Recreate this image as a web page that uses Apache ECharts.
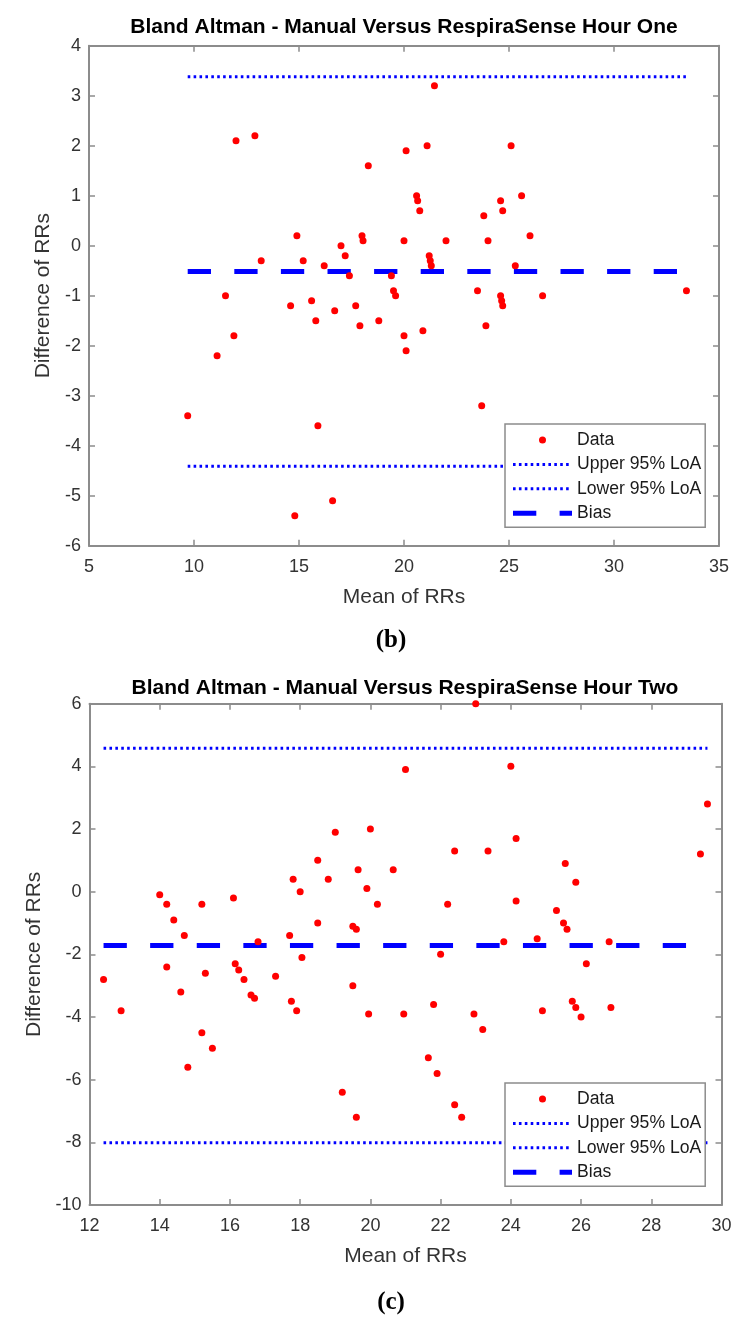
<!DOCTYPE html>
<html>
<head>
<meta charset="utf-8">
<script src="https://cdn.jsdelivr.net/npm/echarts@6/dist/echarts.min.js"></script>
<style>
html,body{margin:0;padding:0;background:#fff;}
#chart{width:749px;height:1332px;}
</style>
</head>
<body>
<div id="chart"></div>
<script>
// ---------- Hour One (b) ----------
const h1Mean = [9.7, 11.1, 11.5, 11.9, 12.0, 12.9, 13.2, 14.6, 14.8, 14.9, 15.2, 15.6, 15.8, 15.9, 16.2, 16.6, 16.7, 17.0, 17.2, 17.4, 17.7, 17.9, 18.0, 18.05, 18.3, 18.8, 19.4, 19.5, 19.6, 20.0, 20.0, 20.1, 20.1, 20.6, 20.65, 20.75, 20.9, 21.1, 21.2, 21.25, 21.3, 21.45, 22.0, 23.5, 23.7, 23.8, 23.9, 24.0, 24.6, 24.7, 24.6, 24.65, 24.7, 25.1, 25.3, 25.6, 26.0, 26.6, 33.45];
const h1Diff = [-3.4, -2.2, -1.0, -1.8, 2.1, 2.2, -0.3, -1.2, -5.4, 0.2, -0.3, -1.1, -1.5, -3.6, -0.4, -5.1, -1.3, 0.0, -0.2, -0.6, -1.2, -1.6, 0.2, 0.1, 1.6, -1.5, -0.6, -0.9, -1.0, 0.1, -1.8, 1.9, -2.1, 1.0, 0.9, 0.7, -1.7, 2.0, -0.2, -0.3, -0.4, 3.2, 0.1, -0.9, -3.2, 0.6, -1.6, 0.1, 0.9, 0.7, -1.0, -1.1, -1.2, 2.0, -0.4, 1.0, 0.2, -1.0, -0.9];
const h1Upper = 3.38;
const h1Lower = -4.41;
const h1Bias = -0.515;
const h1XTicks = [5, 35, 5];   // min, max, interval
const h1YTicks = [-6, 4, 1];

// ---------- Hour Two (c) ----------
const h2Mean = [12.4, 12.9, 14.0, 14.2, 14.2, 14.4, 14.6, 14.7, 14.8, 15.2, 15.2, 15.3, 15.5, 16.1, 16.15, 16.25, 16.4, 16.6, 16.7, 16.8, 17.3, 17.7, 17.75, 17.8, 17.9, 18.0, 18.05, 18.5, 18.5, 18.8, 19.0, 19.2, 19.5, 19.5, 19.6, 19.6, 19.65, 19.9, 19.95, 20.0, 20.2, 20.65, 20.95, 21.0, 21.65, 21.8, 21.9, 22.0, 22.2, 22.4, 22.4, 22.6, 22.95, 23.0, 23.2, 23.35, 23.8, 24.0, 24.15, 24.15, 24.75, 24.9, 25.3, 25.5, 25.55, 25.6, 25.75, 25.85, 25.85, 26.0, 26.15, 26.8, 26.85, 29.4, 29.6];
const h2Diff = [-2.8, -3.8, -0.1, -0.4, -2.4, -0.9, -3.2, -1.4, -5.6, -0.4, -4.5, -2.6, -5.0, -0.2, -2.3, -2.5, -2.8, -3.3, -3.4, -1.6, -2.7, -1.4, -3.5, 0.4, -3.8, 0.0, -2.1, 1.0, -1.0, 0.4, 1.9, -6.4, -3.0, -1.1, -1.2, -7.2, 0.7, 0.1, -3.9, 2.0, -0.4, 0.7, -3.9, 3.9, -5.3, -3.6, -5.8, -2.0, -0.4, 1.3, -6.8, -7.2, -3.9, 6.0, -4.4, 1.3, -1.6, 4.0, 1.7, -0.3, -1.5, -3.8, -0.6, -1.0, 0.9, -1.2, -3.5, 0.3, -3.7, -4.0, -2.3, -1.6, -3.7, 1.2, 2.8];
const h2Upper = 4.58;
const h2Lower = -8.01;
const h2Bias = -1.72;
const h2XTicks = [12, 30, 2];
const h2YTicks = [-10, 6, 2];

const seriesNames = ['Data', 'Upper 95% LoA', 'Lower 95% LoA', 'Bias'];
const titles = ['Bland Altman - Manual Versus RespiraSense Hour One', 'Bland Altman - Manual Versus RespiraSense Hour Two'];
const captions = ['b', 'c'];
const xName = 'Mean of RRs';
const yName = 'Difference of RRs';

// ---------- styling ----------
const FONT = '"Liberation Sans", Arial, Helvetica, sans-serif';
const FRAME = '#8c8c8c';
const TXT = '#333333';
const BLUE = '#0000ff';
const RED = '#ff0000';
const DOT_STYLE = {width: 3, type: [2.6, 3.3]};
const DASH_STYLE = {width: 5, type: [23.3, 23.3]};

function xAxes(g, t) {
  const common = {type: 'value', gridIndex: g, min: t[0], max: t[1], interval: t[2],
    axisLine: {show: true, onZero: false, lineStyle: {color: FRAME, width: 2}},
    axisTick: {show: true, inside: true, length: 6, lineStyle: {color: FRAME, width: 1.5}},
    splitLine: {show: false}};
  return [
    Object.assign({}, common, {position: 'bottom', name: xName, nameLocation: 'middle', nameGap: 41,
      nameTextStyle: {fontFamily: FONT, fontSize: 21, color: TXT},
      axisLabel: {fontFamily: FONT, fontSize: 18, color: TXT, margin: 12}}),
    Object.assign({}, common, {position: 'top', axisLabel: {show: false}})
  ];
}
function yAxes(g, t) {
  const common = {type: 'value', gridIndex: g, min: t[0], max: t[1], interval: t[2],
    axisLine: {show: true, onZero: false, lineStyle: {color: FRAME, width: 2}},
    axisTick: {show: true, inside: true, length: 6, lineStyle: {color: FRAME, width: 1.5}},
    splitLine: {show: false}};
  return [
    Object.assign({}, common, {position: 'left', name: yName, nameLocation: 'middle', nameGap: 33,
      nameTextStyle: {fontFamily: FONT, fontSize: 21, color: TXT},
      axisLabel: {fontFamily: FONT, fontSize: 18, color: TXT, margin: 8}}),
    Object.assign({}, common, {position: 'right', axisLabel: {show: false}})
  ];
}
function chartSeries(axisIdx, means, diffs, upper, lower, bias) {
  const xmin = Math.min.apply(null, means), xmax = Math.max.apply(null, means);
  const hline = (name, v, style) => ({
    type: 'line', name: name, xAxisIndex: axisIdx, yAxisIndex: axisIdx,
    data: [[xmin, v], [xmax, v]], symbol: 'none', silent: true, z: 2,
    lineStyle: Object.assign({color: BLUE, cap: 'butt', opacity: 1}, style),
    itemStyle: {color: BLUE}
  });
  return [
    {type: 'scatter', name: seriesNames[0], xAxisIndex: axisIdx, yAxisIndex: axisIdx,
     data: means.map((m, i) => [m, diffs[i]]), symbol: 'circle', symbolSize: 7,
     itemStyle: {color: RED, opacity: 1}, z: 5, clip: false},
    hline(seriesNames[1], upper, DOT_STYLE),
    hline(seriesNames[2], lower, DOT_STYLE),
    hline(seriesNames[3], bias, DASH_STYLE)
  ];
}
function legendAt(top) {
  const styles = [null, DOT_STYLE, DOT_STYLE, DASH_STYLE];
  return {
    orient: 'vertical', left: 505, top: top, itemWidth: 59, itemHeight: 7, itemGap: 4.4,
    padding: [6, 4, 4, 5.5], backgroundColor: '#fff', borderColor: FRAME, borderWidth: 1.5,
    selectedMode: false,
    textStyle: {fontFamily: FONT, fontSize: 17.6, color: '#1a1a1a', lineHeight: 20},
    data: seriesNames.map((n, i) => i === 0
      ? {name: n, itemStyle: {color: RED, opacity: 1}}
      : {name: n, itemStyle: {opacity: 0},
         lineStyle: {color: BLUE, width: styles[i].width, type: styles[i].type, cap: 'butt', opacity: 1}})
  };
}
function captionTitle(letter, cx, cy) {
  return {text: '{p|(}{b|' + letter + '}{p|)}', left: cx, top: cy - 15, textAlign: 'center', padding: 0,
    textStyle: {rich: {
      p: {fontFamily: '"Liberation Serif", "DejaVu Serif", serif', fontSize: 25, color: '#000', lineHeight: 30},
      b: {fontFamily: '"Liberation Serif", "DejaVu Serif", serif', fontSize: 25, fontWeight: 'bold', color: '#000', lineHeight: 30}
    }}};
}
function mainTitle(text, cx, cy) {
  return {text: text, left: cx, top: cy - 12, textAlign: 'center', padding: 0,
    textStyle: {fontFamily: FONT, fontWeight: 'bold', fontSize: 21, lineHeight: 24, color: '#000'}};
}

const chart = echarts.init(document.getElementById('chart'), null, {renderer: 'canvas'});
chart.setOption({
  animation: false,
  backgroundColor: '#fff',
  title: [
    mainTitle(titles[0], 404, 27),
    captionTitle(captions[0], 391, 641),
    mainTitle(titles[1], 405, 688),
    captionTitle(captions[1], 391, 1303)
  ],
  legend: [legendAt(424), legendAt(1083)],
  grid: [
    {left: 89, top: 45.7, width: 630, height: 500},
    {left: 89.5, top: 703.7, width: 632, height: 501.3}
  ],
  xAxis: xAxes(0, h1XTicks).concat(xAxes(1, h2XTicks)),
  yAxis: yAxes(0, h1YTicks).concat(yAxes(1, h2YTicks)),
  series: chartSeries(0, h1Mean, h1Diff, h1Upper, h1Lower, h1Bias)
    .concat(chartSeries(2, h2Mean, h2Diff, h2Upper, h2Lower, h2Bias))
});
</script>
</body>
</html>
